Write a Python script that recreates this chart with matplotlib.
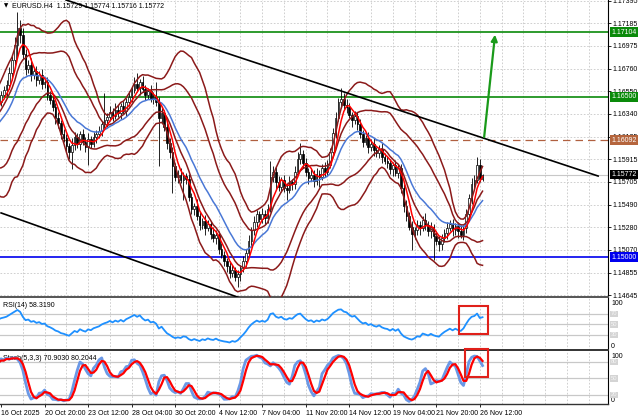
import numpy as np
import pandas as pd
import matplotlib
matplotlib.use("Agg")
import matplotlib.pyplot as plt
from matplotlib.patches import Rectangle

plt.rcParams['font.family'] = ['Liberation Sans', 'DejaVu Sans']

# ---------------- DATA (prices in pips above 1.1000) ----------------
BASE = 1.1
PIP = 0.0001

first_open = 636
pre_close = [640, 632, 645, 628, 612, 598, 585, 570, 560, 575, 590, 585,
             602, 596, 615, 608, 625, 618, 635, 628, 642, 636, 648, 645]
pre_upper = [4, 5, 3, 6, 4, 5, 3, 4, 6, 5, 4, 3, 5, 6, 4, 3, 5, 4, 6, 3, 5, 4, 3, 5]
pre_lower = [5, 4, 6, 3, 5, 4, 6, 5, 8, 4, 3, 5, 4, 3, 6, 4, 5, 3, 4, 6, 3, 5, 4, 3]

vis_close = [652, 656, 661, 672, 684, 698, 714, 708, 690, 676, 680, 670, 674, 666, 670, 662, 664,
             652, 647, 640, 630, 625, 615, 611, 604, 598, 605, 612, 606, 615, 608, 603, 610, 606, 612, 615,
             618, 624, 628, 631, 636, 632, 638, 635, 641, 637, 645,
             650, 656, 662, 658, 664, 657, 652, 655, 648, 650, 645,
             630, 635, 622, 607, 598, 585, 575, 577, 572, 576, 573,
             556, 545, 548, 538, 530, 534, 527, 531, 522, 518, 521, 508, 502, 496, 492, 485, 488, 481, 484,
             490, 496, 504, 515, 525, 533, 540, 536, 540, 537, 545,
             575, 580, 570, 566, 572, 565, 563, 570, 568, 580, 592, 596,
             588, 580, 574, 577, 571, 578, 575, 583, 580, 586, 598,
             616, 630, 645, 648, 642, 640, 633, 628, 632, 624,
             615, 608, 611, 603, 606, 600, 597, 601, 594, 590, 588, 582, 586, 579, 583,
             565, 548, 538, 528, 522, 525, 530, 527, 535, 530, 524, 528, 520, 515, 512,
             518, 523, 527, 531, 525, 529, 524, 521, 527, 540, 555, 568, 572, 586, 572.9, 577.2]
vis_upper = [3, 4, 5, 6, 4, 8, 15, 8, 6, 5, 4, 6, 3, 5, 4, 6, 3,
             4, 3, 5, 4, 6, 3, 5, 4, 3, 6, 5, 4, 3, 5, 4, 6, 3, 5, 4,
             5, 3, 25, 4, 5, 3, 6, 4, 3, 5, 4,
             5, 4, 6, 10, 3, 5, 4, 3, 6, 4, 14,
             5, 4, 3, 6, 4, 5, 3, 4, 6, 4, 3,
             5, 4, 3, 6, 4, 3, 5, 4, 3, 6, 4, 3, 5, 4, 3, 4, 5, 3, 4,
             3, 5, 4, 6, 3, 5, 4, 3, 6, 4, 5,
             15, 5, 4, 6, 3, 5, 4, 6, 3, 5, 6, 11,
             4, 5, 3, 6, 4, 5, 3, 4, 6, 5, 4,
             5, 6, 4, 10, 5, 6, 4, 3, 5, 4,
             5, 4, 3, 6, 4, 5, 3, 4, 6, 3, 5, 4, 3, 5, 4,
             4, 3, 5, 4, 6, 3, 5, 4, 3, 6, 4, 5, 3, 4, 5,
             4, 3, 6, 4, 5, 3, 4, 6, 3, 5, 4, 6, 5, 8, 6, 0.2]
vis_lower = [4, 3, 5, 4, 6, 5, 12, 8, 5, 6, 4, 5, 3, 6, 4, 5, 4,
             5, 4, 3, 6, 4, 5, 3, 6, 6, 16, 5, 4, 6, 3, 5, 17, 4, 3, 5,
             4, 5, 3, 6, 4, 5, 3, 4, 6, 3, 5,
             4, 5, 3, 4, 6, 3, 5, 4, 3, 5, 4,
             45, 5, 4, 6, 5, 25, 4, 6, 3, 19, 5,
             4, 5, 6, 3, 5, 4, 6, 3, 5, 4, 6, 5, 3, 4, 6, 5, 4, 3, 9,
             6, 4, 5, 3, 6, 4, 5, 3, 4, 6, 5,
             3, 5, 6, 4, 5, 4, 10, 3, 5, 4, 3, 5,
             5, 4, 6, 3, 5, 4, 9, 3, 5, 4, 3,
             4, 5, 3, 6, 4, 5, 3, 6, 4, 5,
             4, 5, 3, 6, 4, 5, 3, 4, 6, 3, 5, 4, 6, 3, 5,
             5, 6, 4, 3, 15, 5, 4, 6, 3, 5, 4, 6, 23, 4, 6,
             5, 4, 6, 3, 5, 4, 6, 3, 5, 4, 3, 5, 4, 3, 3, 1.3]

x_tick_bars = [0, 16, 32, 48, 64, 80, 96, 112, 128, 144, 160, 176]
x_tick_labels = ["16 Oct 2025", "20 Oct 20:00", "23 Oct 12:00", "28 Oct 04:00",
                 "30 Oct 20:00", "4 Nov 12:00", "7 Nov 04:00", "11 Nov 20:00",
                 "14 Nov 12:00", "19 Nov 04:00", "21 Nov 20:00", "26 Nov 12:00"]
price_ticks = [1.17395, 1.17185, 1.16975, 1.16760, 1.16550, 1.16340, 1.16125,
               1.15915, 1.15705, 1.15490, 1.15280, 1.15070, 1.14855, 1.14645]

green_levels = [1.17104, 1.16500]
blue_level = 1.15000
brown_level = 1.16092
bid_price = 1.15772

upper_trend_bars = [23.9, 219.5]
upper_trend_prices = [1.17404, 1.15758]
lower_trend_bars = [0.0, 95.0]
lower_trend_prices = [1.15413, 1.14553]
arrow_bars = [177.6, 181.6]
arrow_prices = [1.16123, 1.17080]

header_text = "EURUSD.H4  1.15729 1.15774 1.15716 1.15772"
rsi_text = "RSI(14) 58.3190"
stoch_text = "Stoch(5,3,3) 70.9030 80.2044"

# ---------------- build OHLC ----------------
close_p = np.array(pre_close + vis_close, dtype=float)
upper_w = np.array(pre_upper + vis_upper, dtype=float)
lower_w = np.array(pre_lower + vis_lower, dtype=float)
open_p = np.concatenate([[first_open], close_p[:-1]])
high_p = np.maximum(open_p, close_p) + upper_w
low_p = np.minimum(open_p, close_p) - lower_w

o = BASE + open_p * PIP
c = BASE + close_p * PIP
h = BASE + high_p * PIP
l = BASE + low_p * PIP
n_pre = len(pre_close)
xb = np.arange(len(c)) - n_pre

cs = pd.Series(c)
ma_fast = cs.rolling(5).mean().values
ma_slow = cs.ewm(span=16, adjust=False).mean().values
mid = cs.rolling(20).mean()
sd = cs.rolling(20).std(ddof=0)
bb2_up, bb2_dn = (mid + 2 * sd).values, (mid - 2 * sd).values
bb1_up, bb1_dn = (mid + 1 * sd).values, (mid - 1 * sd).values

# RSI (Wilder)
d = np.diff(c, prepend=c[0])
gain = pd.Series(np.where(d > 0, d, 0.0))
loss = pd.Series(np.where(d < 0, -d, 0.0))
ag = gain.ewm(alpha=1 / 14, adjust=False).mean()
al = loss.ewm(alpha=1 / 14, adjust=False).mean()
rsi = (100 - 100 / (1 + ag / al)).values

# Stochastic 5,3,3
hs, ls = pd.Series(h), pd.Series(l)
hh = hs.rolling(5).max()
ll = ls.rolling(5).min()
k_main = (100 * (cs - ll).rolling(3).sum() / (hh - ll).rolling(3).sum())
k_sig = k_main.rolling(3).mean()
k_main, k_sig = k_main.values, k_sig.values

# ---------------- figure ----------------
W, H = 640, 420
fig = plt.figure(figsize=(6.4, 4.2), dpi=100)


def axes_px(x0, y0, x1, y1):
    return fig.add_axes([x0 / W, 1 - y1 / H, (x1 - x0) / W, (y1 - y0) / H])


PX_PER_BAR = 2.72
AX_R = 608
ax = axes_px(0, 0, AX_R, 297)
ax_r = axes_px(0, 298, AX_R, 350)
ax_s = axes_px(0, 351, AX_R, 404)
xlim = (-0.4, AX_R / PX_PER_BAR - 0.4)

grid_kw = dict(color='#c8c8c8', lw=0.6, ls=(0, (2, 2)), zorder=0)
fs = 5.0

for a in (ax, ax_r, ax_s):
    a.set_xlim(*xlim)
    a.set_facecolor('white')
    for k in range(1, 30):
        a.axvline(8 * k, **grid_kw)
    for s in ('left', 'top'):
        a.spines[s].set_visible(False)
    a.spines['right'].set_color('black')
    a.spines['right'].set_linewidth(0.8)
    a.spines['bottom'].set_color('#555555')
    a.spines['bottom'].set_linewidth(1.4)
    a.yaxis.tick_right()
    a.tick_params(axis='y', length=2, width=0.6, labelsize=fs, pad=1.5, colors='black')
    a.tick_params(axis='x', length=0)
    a.set_xticks([])

# ---- main panel ----
ax.set_ylim(1.14627, 1.17404)
ax.set_yticks(price_ticks)
ax.set_yticklabels([f"{p:.5f}" for p in price_ticks])
for p in price_ticks:
    ax.axhline(p, **grid_kw)

vis = xb >= -1
up = (c >= o) & vis
dn = (c < o) & vis
ax.vlines(xb[vis], l[vis], h[vis], color='black', lw=0.6, zorder=3)
ax.bar(xb[up], (c - o)[up], bottom=o[up], width=0.6, color='white',
       edgecolor='black', lw=0.5, zorder=4)
ax.bar(xb[dn], (o - c)[dn], bottom=c[dn], width=0.6, color='black',
       edgecolor='black', lw=0.5, zorder=4)

band_col = '#8b1a1a'
for arr in (bb2_up, bb2_dn, bb1_up, bb1_dn):
    ax.plot(xb[vis], arr[vis], color=band_col, lw=1.1, zorder=5)
ax.plot(xb[vis], ma_slow[vis], color='#4a78d6', lw=1.1, zorder=6)
ax.plot(xb[vis], ma_fast[vis], color='#ff0000', lw=1.1, zorder=7)

for g in green_levels:
    ax.axhline(g, color='#0a8a0a', lw=1.2, zorder=2)
ax.axhline(blue_level, color='#0000ee', lw=1.2, zorder=2)
ax.axhline(brown_level, color='#b06040', lw=0.9, ls=(0, (6, 4)), zorder=2)
ax.axhline(bid_price, color='#c8c8c8', lw=0.8, zorder=1)

ax.plot(upper_trend_bars, upper_trend_prices, color='black', lw=1.2, zorder=8)
ax.plot(lower_trend_bars, lower_trend_prices, color='black', lw=1.2, zorder=8)
ax.annotate('', xy=(arrow_bars[1], arrow_prices[1]), xytext=(arrow_bars[0], arrow_prices[0]),
            arrowprops=dict(arrowstyle='-|>', color='#1a9a1a', lw=1.6,
                            mutation_scale=9, shrinkA=0, shrinkB=0), zorder=9)

label_boxes = [(green_levels[0], '#0a8a0a', 'white'), (green_levels[1], '#0a8a0a', 'white'),
               (brown_level, '#b5653d', 'white'), (bid_price, 'black', 'white'),
               (blue_level, '#0000ee', 'white')]
for val, bg, fg in label_boxes:
    ax.text(1.0 + 3 / AX_R, val, f"{val:.5f}", transform=ax.get_yaxis_transform(),
            ha='left', va='center', fontsize=fs, color=fg, zorder=20, clip_on=False,
            bbox=dict(boxstyle='square,pad=0.2', fc=bg, ec='none'))

ax.text(4 / AX_R, 1 - 6 / 297, "\u25bc", transform=ax.transAxes, fontsize=4,
        va='center', ha='left', zorder=20, family='DejaVu Sans')
ax.text(12 / AX_R, 1 - 6 / 297, header_text, transform=ax.transAxes, fontsize=fs,
        va='center', ha='left', zorder=20)

# ---- RSI ----
ax_r.set_ylim(1.5, 100)
ax_r.set_yticks([])
for lv in (30, 50, 70):
    ax_r.axhline(lv, color='#c8c8c8', lw=0.9, zorder=1)
ax_r.plot(xb[vis], rsi[vis], color='#1e90ff', lw=1.3, zorder=5)
ax_r.spines['bottom'].set_color('#333333')
ax_r.text(3 / AX_R, 0.86, rsi_text, transform=ax_r.transAxes, fontsize=fs, va='center', ha='left')
ax_r.add_patch(Rectangle((168.4, 32), 10.6, 52, fill=False, ec='#e0201a', lw=1.5,
                         zorder=10, clip_on=False))

# ---- Stochastic ----
ax_s.set_ylim(3, 100)
ax_s.set_yticks([])
for lv in (20, 50, 80):
    ax_s.axhline(lv, color='#c8c8c8', lw=0.9, zorder=1)
ax_s.plot(xb[vis], k_main[vis], color='#6a98e6', lw=2.0, zorder=5)
ax_s.plot(xb[vis], k_sig[vis], color='#ff0000', lw=1.6, zorder=6)
ax_s.spines['bottom'].set_color('#333333')
ax_s.spines['bottom'].set_linewidth(1.0)
ax_s.text(3 / AX_R, 0.86, stoch_text, transform=ax_s.transAxes, fontsize=fs, va='center', ha='left')
ax_s.add_patch(Rectangle((170.6, 52), 8.4, 52, fill=False, ec='#e0201a', lw=1.5,
                         zorder=10, clip_on=False))

# right-side labels for sub panels
for a, levels in ((ax_r, (70, 50, 30)), (ax_s, (80, 50, 20))):
    tr = a.get_yaxis_transform()
    a.text(1.0 + 3 / AX_R, 0.97, "100", transform=a.transAxes, fontsize=fs, va='top', ha='left')
    a.text(1.0 + 3 / AX_R, 0.0, "0", transform=a.transAxes, fontsize=fs, va='bottom', ha='left')
    for lv in levels:
        a.text(1.0 + 3 / AX_R, lv, str(lv), transform=tr, fontsize=fs - 0.8, va='center',
               ha='left', color='#f4f4f4', clip_on=False,
               bbox=dict(boxstyle='square,pad=0.12', fc='#d4d4d4', ec='none'))

# x labels
ax_s.set_xticks(x_tick_bars)
ax_s.set_xticklabels(x_tick_labels)
ax_s.tick_params(axis='x', length=2, width=0.6, labelsize=fs, pad=2)
for lbl in ax_s.get_xticklabels():
    lbl.set_ha('left')

fig.savefig('out.png', dpi=100, facecolor='white')
